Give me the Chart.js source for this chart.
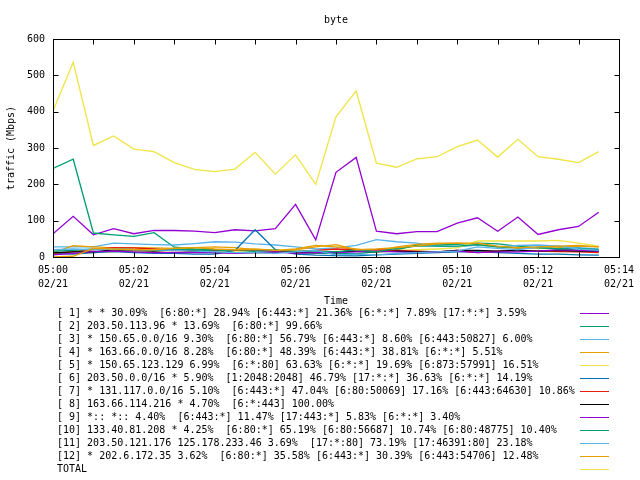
<!DOCTYPE html>
<html>
<head>
<meta charset="utf-8">
<script src="https://cdn.jsdelivr.net/npm/chart.js@4/dist/chart.umd.min.js"></script>
<style>
  html, body { margin: 0; padding: 0; background: #fff; }
  canvas { display: block; }
</style>
</head>
<body>
<canvas id="byte-chart" width="640" height="480"></canvas>
<script>
// sample times, every 30 s from 05:00 on 02/21
const times = [
  "05:00:00", "05:00:30", "05:01:00", "05:01:30", "05:02:00", "05:02:30", "05:03:00",
  "05:03:30", "05:04:00", "05:04:30", "05:05:00", "05:05:30", "05:06:00", "05:06:30",
  "05:07:00", "05:07:30", "05:08:00", "05:08:30", "05:09:00", "05:09:30", "05:10:00",
  "05:10:30", "05:11:00", "05:11:30", "05:12:00", "05:12:30", "05:13:00", "05:13:30"
];
const xTickLabels = ["05:00", "05:02", "05:04", "05:06", "05:08", "05:10", "05:12", "05:14"];
const xTickDate = "02/21";

const keyLabels = [
  "[ 1] * * 30.09%  [6:80:*] 28.94% [6:443:*] 21.36% [6:*:*] 7.89% [17:*:*] 3.59%",
  "[ 2] 203.50.113.96 * 13.69%  [6:80:*] 99.66%",
  "[ 3] * 150.65.0.0/16 9.30%  [6:80:*] 56.79% [6:443:*] 8.60% [6:443:50827] 6.00%",
  "[ 4] * 163.66.0.0/16 8.28%  [6:80:*] 48.39% [6:443:*] 38.81% [6:*:*] 5.51%",
  "[ 5] * 150.65.123.129 6.99%  [6:*:80] 63.63% [6:*:*] 19.69% [6:873:57991] 16.51%",
  "[ 6] 203.50.0.0/16 * 5.90%  [1:2048:2048] 46.79% [17:*:*] 36.63% [6:*:*] 14.19%",
  "[ 7] * 131.117.0.0/16 5.10%  [6:443:*] 47.04% [6:80:50069] 17.16% [6:443:64630] 10.86%",
  "[ 8] 163.66.114.216 * 4.70%  [6:*:443] 100.00%",
  "[ 9] *:: *:: 4.40%  [6:443:*] 11.47% [17:443:*] 5.83% [6:*:*] 3.40%",
  "[10] 133.40.81.208 * 4.25%  [6:80:*] 65.19% [6:80:56687] 10.74% [6:80:48775] 10.40%",
  "[11] 203.50.121.176 125.178.233.46 3.69%  [17:*:80] 73.19% [17:46391:80] 23.18%",
  "[12] * 202.6.172.35 3.62%  [6:80:*] 35.58% [6:443:*] 30.39% [6:443:54706] 12.48%",
  "TOTAL"
];

// Mbps
const s1  = [64, 112, 61, 78, 64, 73, 73, 71, 67, 75, 72, 78, 145, 47, 233, 274, 71, 64, 70, 70, 93, 108, 71, 110, 62, 75, 84, 123];
const s2  = [244, 269, 66, 61, 57, 67, 27, 22, 20, 18, 15, 14, 12, 10, 10, 9, 15, 20, 33, 33, 35, 38, 36, 30, 25, 24, 18, 15];
const s3  = [28, 28, 28, 38, 36, 34, 33, 37, 42, 41, 36, 33, 28, 22, 25, 32, 48, 42, 38, 30, 28, 33, 28, 32, 33, 30, 26, 22];
const s4  = [12, 31, 28, 25, 26, 25, 24, 26, 28, 26, 20, 18, 22, 32, 28, 22, 15, 28, 35, 38, 38, 35, 28, 24, 25, 26, 30, 28];
const s5  = [8, 10, 12, 15, 16, 17, 18, 16, 14, 16, 18, 20, 15, 12, 15, 18, 20, 18, 20, 22, 25, 44, 44, 44, 44, 46, 38, 30];
const s6  = [10, 8, 12, 15, 12, 10, 10, 8, 8, 18, 75, 20, 8, 5, 4, 3, 6, 8, 10, 12, 14, 15, 12, 10, 8, 8, 6, 5];
const s7  = [10, 15, 20, 26, 25, 22, 18, 16, 18, 18, 20, 16, 15, 18, 22, 20, 20, 18, 16, 14, 18, 12, 16, 18, 16, 15, 14, 12];
const s8  = [12, 14, 14, 20, 18, 16, 20, 16, 12, 12, 12, 12, 14, 12, 14, 16, 14, 16, 14, 14, 18, 18, 16, 18, 16, 18, 16, 16];
const s9  = [6, 10, 15, 16, 14, 12, 13, 12, 12, 10, 12, 14, 10, 12, 12, 14, 16, 14, 12, 14, 16, 12, 14, 14, 16, 20, 18, 16];
const s10 = [16, 18, 22, 22, 20, 18, 20, 20, 16, 20, 20, 18, 16, 16, 14, 20, 14, 24, 30, 30, 30, 34, 28, 26, 26, 22, 24, 20];
const s11 = [20, 22, 20, 22, 20, 20, 18, 16, 14, 12, 12, 10, 14, 18, 6, 8, 6, 10, 12, 14, 16, 28, 24, 20, 28, 30, 22, 18];
const s12 = [0, 2, 24, 22, 20, 20, 24, 26, 22, 20, 22, 18, 20, 28, 34, 20, 22, 26, 30, 36, 38, 38, 30, 26, 28, 30, 32, 28];
const total = [402, 536, 307, 333, 297, 290, 260, 241, 235, 242, 288, 228, 281, 200, 386, 457, 258, 247, 270, 276, 304, 322, 275, 324, 276, 269, 260, 290];

const seriesValues = [s1, s2, s3, s4, s5, s6, s7, s8, s9, s10, s11, s12, total];
const palette = ["#9400d3", "#009e73", "#56b4e9", "#e69f00", "#f0e442", "#0072b2", "#e51e10", "#000000"];

const FONT = '"DejaVu Sans Mono", "Liberation Mono", monospace';

// minutes after 05:00
function toMinutes(t) {
  const p = t.split(":").map(Number);
  return (p[0] - 5) * 60 + p[1] + p[2] / 60;
}

const datasets = seriesValues.map((vals, i) => ({
  label: keyLabels[i],
  data: vals.map((v, j) => ({ x: toMinutes(times[j]), y: v })),
  borderColor: palette[i % palette.length],
  backgroundColor: palette[i % palette.length],
  borderWidth: 1.3,
  pointRadius: 0,
  tension: 0,
  fill: false,
  order: seriesValues.length - i // later series on top, like gnuplot
}));

// border box with inward ticks on all four sides
const framePlugin = {
  id: "frame",
  afterDatasetsDraw(chart) {
    const { ctx, chartArea: a, scales } = chart;
    const L = Math.round(a.left) + 0.5, R = Math.round(a.right) + 0.5;
    const T = Math.round(a.top) + 0.5, B = Math.round(a.bottom) + 0.5;
    ctx.save();
    ctx.strokeStyle = "#000";
    ctx.lineWidth = 1;
    ctx.beginPath();
    scales.x.ticks.forEach((t) => {
      const px = Math.round(scales.x.getPixelForValue(t.value)) + 0.5;
      ctx.moveTo(px, B); ctx.lineTo(px, B - 5);
      ctx.moveTo(px, T); ctx.lineTo(px, T + 5);
    });
    scales.y.ticks.forEach((t) => {
      const py = Math.round(scales.y.getPixelForValue(t.value)) + 0.5;
      ctx.moveTo(L, py); ctx.lineTo(L + 5, py);
      ctx.moveTo(R, py); ctx.lineTo(R - 5, py);
    });
    ctx.stroke();
    ctx.strokeRect(L, T, R - L, B - T);
    ctx.restore();
  }
};

// gnuplot style key: text on the left, line sample on the right
const keyPlugin = {
  id: "gpkey",
  afterDraw(chart) {
    const ctx = chart.ctx;
    ctx.save();
    ctx.font = "10px " + FONT;
    ctx.textBaseline = "middle";
    ctx.textAlign = "left";
    chart.data.datasets.forEach((ds, i) => {
      const y = 313 + 13 * i;
      ctx.fillStyle = "#000";
      ctx.fillText(ds.label, 57, y);
      ctx.strokeStyle = ds.borderColor;
      ctx.lineWidth = 1;
      ctx.beginPath();
      ctx.moveTo(580, y + 0.5);
      ctx.lineTo(609, y + 0.5);
      ctx.stroke();
    });
    ctx.restore();
  }
};

Chart.defaults.font.family = FONT;
Chart.defaults.font.size = 10;
Chart.defaults.color = "#000";

new Chart(document.getElementById("byte-chart"), {
  type: "line",
  data: { datasets: datasets },
  options: {
    responsive: false,
    animation: false,
    devicePixelRatio: 1,
    layout: { padding: { left: 0, right: 19, top: 0, bottom: 173 } },
    plugins: {
      legend: { display: false },
      tooltip: { enabled: false },
      title: {
        display: true,
        text: "byte",
        fullSize: false,
        font: { family: FONT, size: 10, weight: "normal" },
        color: "#000",
        padding: { top: 14, bottom: 13 }
      }
    },
    scales: {
      x: {
        type: "linear",
        min: 0,
        max: 14,
        grid: { display: false, drawTicks: false },
        border: { display: false },
        ticks: {
          stepSize: 1,
          autoSkip: false,
          maxRotation: 0,
          padding: 6,
          font: { family: FONT, size: 10, lineHeight: 1.4 },
          callback: (v) => (v % 2 === 0 ? [xTickLabels[v / 2], xTickDate] : "")
        },
        title: { display: true, text: "Time", font: { family: FONT, size: 10 }, padding: 0 },
        afterFit: (scale) => { scale.height = 50; }
      },
      y: {
        min: 0,
        max: 600,
        grid: { display: false, drawTicks: false },
        border: { display: false },
        ticks: { stepSize: 100, padding: 8, font: { family: FONT, size: 10 } },
        title: { display: true, text: "traffic (Mbps)", font: { family: FONT, size: 10 }, padding: { top: 5, bottom: 0 } },
        afterFit: (scale) => { scale.width = 53; }
      }
    }
  },
  plugins: [framePlugin, keyPlugin]
});
</script>
</body>
</html>
